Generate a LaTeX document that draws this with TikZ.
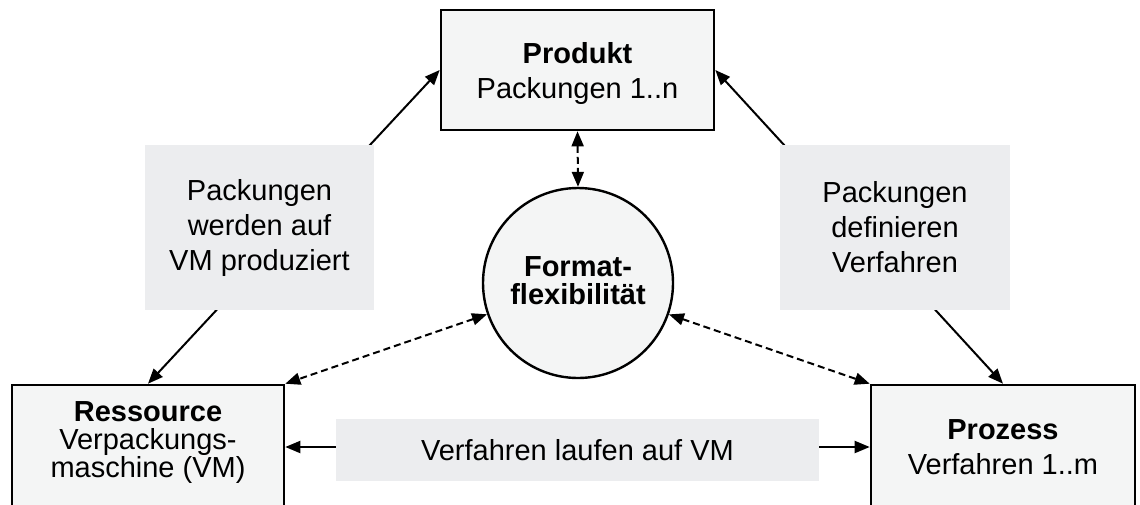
\documentclass[tikz,border=0pt]{standalone}
\usepackage{fontspec}
\setmainfont{Liberation Sans}
\usetikzlibrary{arrows.meta}
\definecolor{boxfill}{RGB}{244,245,245}
\definecolor{lblfill}{RGB}{236,237,239}
\begin{document}
\begin{tikzpicture}[x=1pt,y=-1pt,
  mainbox/.style={draw=black, line width=2.6pt, fill=boxfill, inner sep=0pt},
  lbl/.style={fill=lblfill, inner sep=0pt, align=center, font=\fontsize{29}{35}\selectfont},
  txt/.style={align=center, inner sep=0pt, font=\fontsize{29}{35}\selectfont},
  tighttxt/.style={align=center, inner sep=0pt, font=\fontsize{29}{28}\selectfont},
  conn/.style={line width=2pt, {Triangle[length=15pt,width=12pt]}-{Triangle[length=15pt,width=12pt]}},
  dconn/.style={conn, dash pattern=on 7pt off 4pt}]
\useasboundingbox (0,0) rectangle (1140,504);
\clip (0,0) rectangle (1140,504);

% main boxes
\node[mainbox, minimum width=273pt, minimum height=120pt] (produkt) at (577.5,70) {};
\node[mainbox, minimum width=272pt, minimum height=124pt] (ress) at (148,447) {};
\node[mainbox, minimum width=264pt, minimum height=124pt] (proz) at (1003,447) {};
\node[circle, draw=black, line width=2.4pt, fill=boxfill, minimum size=190pt, inner sep=0pt] (ff) at (578,283) {};

% texts in boxes
\node[txt] (produkttxt) at (577.5,73) {\textbf{Produkt}\\Packungen 1..n};
\node[tighttxt] (resstxt) at (148,443) {\textbf{Ressource}\\Verpackungs-\\maschine (VM)};
\node[txt] (proztxt) at (1003,447) {\textbf{Prozess}\\Verfahren 1..m};
\node[tighttxt] (fftxt) at (578,280.5) {\textbf{Format-}\\\textbf{flexibilität}};

% connectors
\draw[conn] (ress.north) -- (produkt.west);
\draw[conn] (produkt.east) -- (proz.north);
\draw[conn] (ress.east) -- (proz.west);
\draw[dconn] (produkt.south) -- (ff.north);
\draw[dconn] (ff) -- (ress.north east);
\draw[dconn] (ff) -- (proz.north west);

% label boxes on top of connectors
\node[lbl, minimum width=229pt, minimum height=165pt] (l1) at (259.5,227.5) {Packungen\\werden auf\\VM produziert};
\node[lbl, minimum width=230pt, minimum height=165pt] (l2) at (895,227.5) {Packungen\\definieren\\Verfahren};
\node[lbl, minimum width=483pt, minimum height=62pt] (l3) at (577.5,450) {Verfahren laufen auf VM};
\end{tikzpicture}
\end{document}
